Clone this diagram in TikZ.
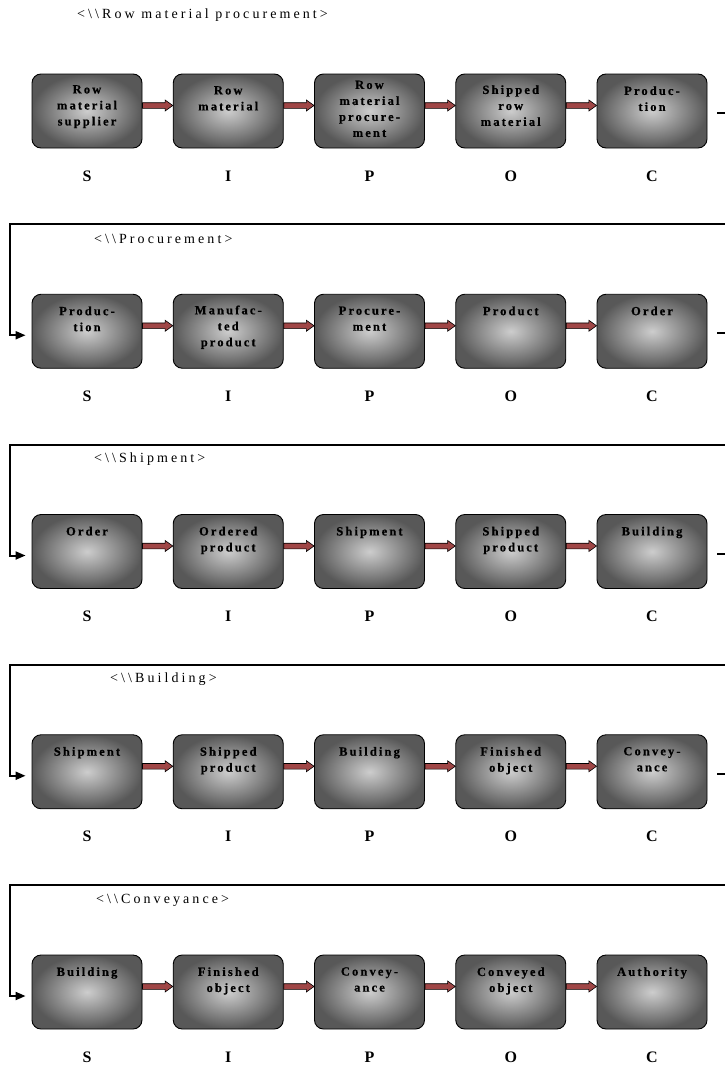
\documentclass[tikz,border=0pt]{standalone}
\usepackage{fontspec}
\setmainfont{Liberation Serif}
\newfontfamily\boxfont[LetterSpace=17,BoldFeatures={FakeBold=0.6}]{Liberation Serif}
\newfontfamily\titlefont[LetterSpace=22]{Liberation Serif}
\usetikzlibrary{calc,arrows.meta}

\definecolor{boxedge}{RGB}{88,88,88}
\definecolor{boxcentre}{RGB}{205,205,205}
\definecolor{flowred}{RGB}{160,70,70}

\tikzset{
  stagebox/.style={draw=black, line width=0.9pt, rounded corners=9pt,
    minimum width=110pt, minimum height=74pt, inner sep=0pt,
    shading=radial, inner color=boxcentre, outer color=boxedge},
  stagetext/.style={anchor=north, align=center, inner sep=0pt,
    font=\boxfont\bfseries\fontsize{12.5}{16}\selectfont},
  rolelabel/.style={font=\bfseries\fontsize{16}{18}\selectfont, inner sep=0pt},
  rowtitle/.style={anchor=west, inner sep=0pt,
    font=\titlefont\fontsize{14}{16}\selectfont},
  flowarrow/.style={fill=flowred, draw=black, line width=0.6pt, line join=miter},
  feedback/.style={draw=black, line width=2pt, line join=miter,
    -{Triangle[length=10pt,width=8pt]}},
}

% a stage box with its caption hung from the top edge
\newcommand\stage[5][12.5pt]{%
  \node[stagebox] (#2) at (#3,#4) {};
  \node[stagetext] (#2-t) at ([yshift=-#1]#2.north) {#5};
}
% red block arrow between two neighbouring stages
\newcommand\flow[2]{%
  \path[flowarrow] let \p1=(#1.east), \p2=(#2.west) in
    (\x1,\y1+8.3pt) -- (\x2-7.7pt,\y1+8.3pt) -- (\x2-7.7pt,\y1+11pt)
    -- (\x2,\y1+5.5pt) -- (\x2-7.7pt,\y1+0pt) -- (\x2-7.7pt,\y1+2.7pt)
    -- (\x1,\y1+2.7pt) -- cycle;
}
\newcommand\bs{\textbackslash\textbackslash}

\begin{document}
\begin{tikzpicture}[x=1pt,y=-1pt]
\useasboundingbox (0,0) rectangle (725,1065);
\clip (0,0) rectangle (725,1065);

% row titles
\node[rowtitle] (t1) at (77,15)  {<\bs Row material procurement>};
\node[rowtitle] (t2) at (94,239) {<\bs Procurement>};
\node[rowtitle] (t3) at (94,459) {<\bs Shipment>};
\node[rowtitle] (t4) at (110,679) {<\bs Building>};
\node[rowtitle] (t5) at (96,900) {<\bs Conveyance>};

% row 1
\stage[11.5pt]{b-1-1}{87}{111}{Row\\material\\supplier}
\stage{b-1-2}{228.25}{111}{Row\\material}
\stage[7pt]{b-1-3}{369.5}{111}{Row\\material\\procure-\\ment}
\stage[11.5pt]{b-1-4}{510.75}{111}{Shipped\\row\\material}
\stage{b-1-5}{652}{111}{Produc-\\tion}

% row 2
\stage{b-2-1}{87}{331.25}{Produc-\\tion}
\stage[11.5pt]{b-2-2}{228.25}{331.25}{Manufac-\\ted\\product}
\stage{b-2-3}{369.5}{331.25}{Procure-\\ment}
\stage{b-2-4}{510.75}{331.25}{Product}
\stage{b-2-5}{652}{331.25}{Order}

% row 3
\stage{b-3-1}{87}{551.5}{Order}
\stage{b-3-2}{228.25}{551.5}{Ordered\\product}
\stage{b-3-3}{369.5}{551.5}{Shipment}
\stage{b-3-4}{510.75}{551.5}{Shipped\\product}
\stage{b-3-5}{652}{551.5}{Building}

% row 4
\stage{b-4-1}{87}{771.75}{Shipment}
\stage{b-4-2}{228.25}{771.75}{Shipped\\product}
\stage{b-4-3}{369.5}{771.75}{Building}
\stage{b-4-4}{510.75}{771.75}{Finished\\object}
\stage{b-4-5}{652}{771.75}{Convey-\\ance}

% row 5
\stage{b-5-1}{87}{992}{Building}
\stage{b-5-2}{228.25}{992}{Finished\\object}
\stage{b-5-3}{369.5}{992}{Convey-\\ance}
\stage{b-5-4}{510.75}{992}{Conveyed\\object}
\stage{b-5-5}{652}{992}{Authority}

% arrows along each row and S I P O C captions
\foreach \r in {1,...,5}{
  \foreach \c/\cnext in {1/2,2/3,3/4,4/5}{ \flow{b-\r-\c}{b-\r-\cnext} }
  \foreach \c/\L in {1/S,2/I,3/P,4/O,5/C}{
    \node[rolelabel] (lab-\r-\c) at ([yshift=-65pt]b-\r-\c.center) {\L};
  }
}

% return lines from the customer of one row to the supplier of the next
\foreach \r/\rnext/\ty in {1/2/224.25,2/3/444.5,3/4/664.75,4/5/885}{
  \coordinate (tr-\rnext) at (740,\ty);
  \coordinate (tl-\rnext) at (10,\ty);
  \draw[feedback] ([xshift=10pt,yshift=-2pt]b-\r-5.east) -| (tr-\rnext) -- (tl-\rnext)
    |- ([xshift=-6pt,yshift=-4pt]b-\rnext-1.west);
}
\end{tikzpicture}
\end{document}
